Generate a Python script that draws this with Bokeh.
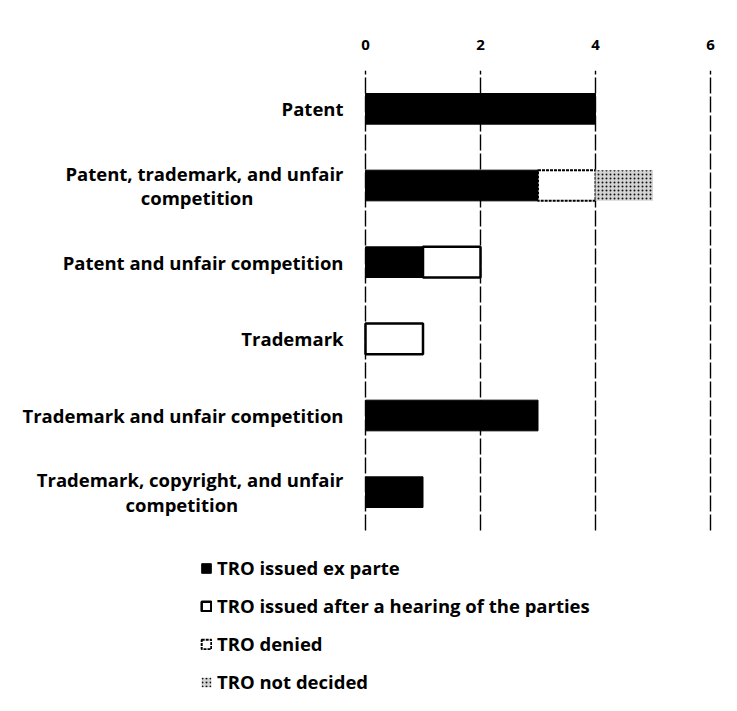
from bokeh.plotting import figure
from bokeh.models import ColumnDataSource, Legend, LegendItem, CDSView, BooleanFilter, FixedTicker
from bokeh.transform import stack
from bokeh.core.properties import value
from bokeh.embed import file_html
from bokeh.resources import INLINE

categories = [
    "Patent",
    "Patent, trademark, and unfair competition",
    "Patent and unfair competition",
    "Trademark",
    "Trademark and unfair competition",
    "Trademark, copyright, and unfair competition",
]
label_lines = [
    ["Patent"],
    ["Patent, trademark, and unfair", "competition"],
    ["Patent and unfair competition"],
    ["Trademark"],
    ["Trademark and unfair competition"],
    ["Trademark, copyright, and unfair", "competition"],
]
ex_parte = [4, 3, 1, 0, 3, 1]
hearing = [0, 0, 1, 1, 0, 0]
denied = [0, 1, 0, 0, 0, 0]
not_decided = [0, 1, 0, 0, 0, 0]
series = ["ex_parte", "hearing", "denied", "not_decided"]
series_labels = ["TRO issued ex parte", "TRO issued after a hearing of the parties",
                 "TRO denied", "TRO not decided"]
x_ticks = [0, 2, 4, 6]

FONT = "Open Sans"
W, H = 737, 711
PX_PER_UNIT = 57.5           # screen scale of the value axis
ZERO_PX = 365                # screen x of value 0
FRAME_RIGHT = 716
TOP = 70                     # screen y of the top of the category area
ROW_PX = 460 / 6             # height of one category row
LABEL_GAP = 22               # gap between category labels and value 0
CHAR_W = 10.1                # approx. width of one label character

n = len(categories)
ypos = [n - i - 0.5 for i in range(n)]   # row centres, first category on top

source = ColumnDataSource(dict(cat=categories, y=ypos, ex_parte=ex_parte, hearing=hearing,
                               denied=denied, not_decided=not_decided))

x_start = -ZERO_PX / PX_PER_UNIT
x_end = 6 + (FRAME_RIGHT - ZERO_PX - 6 * PX_PER_UNIT) / PX_PER_UNIT
y_start = -(H - TOP - n * ROW_PX) / ROW_PX

p = figure(width=W, height=H, output_backend="svg", toolbar_location=None,
           x_range=(x_start, x_end), y_range=(y_start, n), x_axis_location="above",
           min_border_left=0, min_border_right=W - FRAME_RIGHT,
           min_border_top=TOP, min_border_bottom=0)

# vertical grid lines over the category area only
p.segment(x0=x_ticks, x1=x_ticks, y0=[0] * len(x_ticks), y1=[n] * len(x_ticks),
          line_color="black", line_width=1.4, line_dash="16 3")

styles = [
    dict(fill_color="black", line_color="black", line_width=1),
    dict(fill_color="white", line_color="black", line_width=2.5),
    dict(fill_color="white", line_color="black", line_width=2, line_dash="3 1"),
    dict(fill_color="#d4d4d4", line_color=None, hatch_pattern=".", hatch_color="#111111",
         hatch_scale=4, hatch_weight=1.6),
]
renderers = []
for i, s in enumerate(series):
    vals = source.data[s]
    view = CDSView(filter=BooleanFilter([v > 0 for v in vals]))
    r = p.hbar(y="y", left=stack(*series[:i]) if i else 0, right=stack(*series[:i + 1]),
               height=0.4, source=source, view=view, **styles[i])
    renderers.append(r)

# category labels (drawn as text so that two-line labels can be centred)
label_x = -LABEL_GAP / PX_PER_UNIT
line_off = 0.16
single = dict(y=[], txt=[])
first = dict(y=[], txt=[])
second = dict(y=[], txt=[], x=[])
for yy, lines in zip(ypos, label_lines):
    if len(lines) == 1:
        single["y"].append(yy); single["txt"].append(lines[0])
    else:
        first["y"].append(yy + line_off); first["txt"].append(lines[0])
        second["y"].append(yy - line_off); second["txt"].append(lines[1])
        second["x"].append(label_x - len(lines[0]) * CHAR_W / 2 / PX_PER_UNIT)

txt_style = dict(text_font=value(FONT), text_font_style="bold", text_font_size="18.5px",
                 text_color="black", text_baseline="middle")
p.text(x=label_x, y="y", text="txt", source=ColumnDataSource(single),
       text_align="right", **txt_style)
p.text(x=label_x, y="y", text="txt", source=ColumnDataSource(first),
       text_align="right", **txt_style)
p.text(x="x", y="y", text="txt", source=ColumnDataSource(second),
       text_align="center", **txt_style)

p.yaxis.visible = False
p.xaxis.ticker = FixedTicker(ticks=x_ticks)
p.xaxis.axis_line_color = None
p.xaxis.major_tick_line_color = None
p.xaxis.minor_tick_line_color = None
p.xaxis.major_label_standoff = 15
p.xaxis.major_label_text_font = FONT
p.xaxis.major_label_text_font_style = "bold"
p.xaxis.major_label_text_font_size = "15px"
p.xaxis.major_label_text_color = "black"
p.grid.visible = False
p.outline_line_color = None

legend = Legend(items=[LegendItem(label=series_labels[i], renderers=[renderers[i]])
                       for i in range(4)],
                location=(200, 17), orientation="vertical",
                label_text_font=FONT, label_text_font_style="bold",
                label_text_font_size="18.5px", label_text_color="black",
                glyph_width=12, glyph_height=12, label_height=22, spacing=13,
                padding=0, margin=0, label_standoff=5,
                border_line_color=None, background_fill_alpha=0)
p.add_layout(legend, "center")

open("out.html", "w").write(file_html(p, INLINE))
